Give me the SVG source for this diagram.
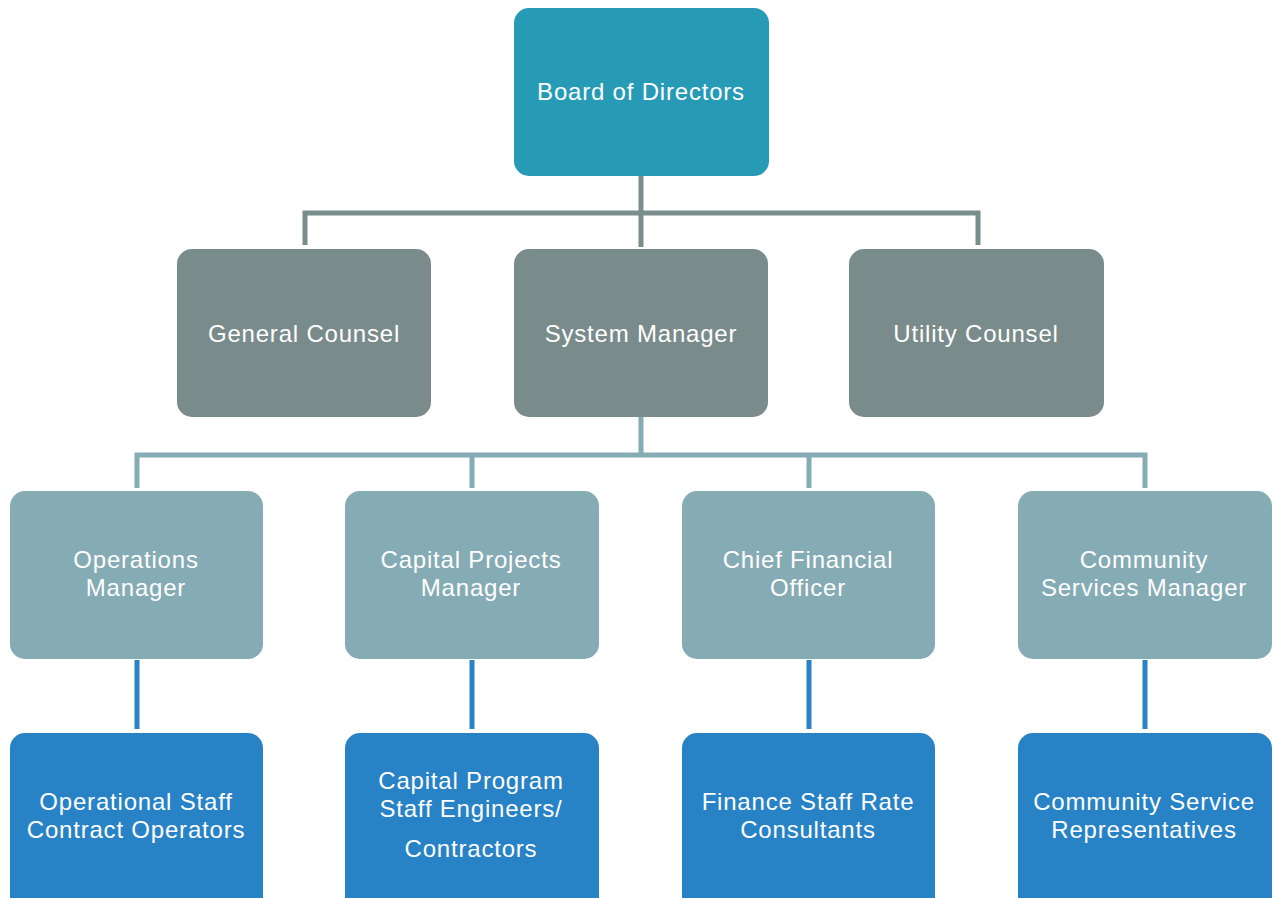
<svg xmlns="http://www.w3.org/2000/svg" width="1275" height="898" viewBox="0 0 1275 898">
<style>
.t{font-family:"Liberation Sans",Arial,sans-serif;font-size:24px;letter-spacing:0.8px;fill:#ffffff;text-anchor:middle}
.board{fill:#279bb5}
.l2{fill:#7a8b8b}
.l3{fill:#85abb5}
.l4{fill:#2782c6}
.c1{stroke:#7a8d8d;stroke-width:5;fill:none}
.c2{stroke:#85abb5;stroke-width:5;fill:none}
.c3{stroke:#2782c6;stroke-width:5;fill:none}
</style>
<rect width="1275" height="898" fill="#ffffff"/>
<g id="connectors">
<path class="c1" d="M641 176V247M305 245V213H978V245"/>
<path class="c2" d="M641 417V455M137 488V455H1145V488M472 455V488M809 455V488"/>
<path class="c3" d="M137 660V729M472 660V729M809 660V729M1145 660V729"/>
</g>
<g id="board"><rect class="board" x="514" y="8" width="255" height="168" rx="15"/><text class="t" x="641" y="100">Board of Directors</text></g>
<g id="general-counsel"><rect class="l2" x="177" y="249" width="254" height="168" rx="15"/><text class="t" x="304" y="342">General Counsel</text></g>
<g id="system-manager"><rect class="l2" x="514" y="249" width="254" height="168" rx="15"/><text class="t" x="641" y="342">System Manager</text></g>
<g id="utility-counsel"><rect class="l2" x="849" y="249" width="255" height="168" rx="15"/><text class="t" x="976" y="342">Utility Counsel</text></g>
<g id="operations-manager"><rect class="l3" x="10" y="491" width="253" height="168" rx="15"/><text class="t" x="136" y="568">Operations</text><text class="t" x="136" y="596">Manager</text></g>
<g id="capital-projects-manager"><rect class="l3" x="345" y="491" width="254" height="168" rx="15"/><text class="t" x="471" y="568">Capital Projects</text><text class="t" x="471" y="596">Manager</text></g>
<g id="cfo"><rect class="l3" x="682" y="491" width="253" height="168" rx="15"/><text class="t" x="808" y="568">Chief Financial</text><text class="t" x="808" y="596">Officer</text></g>
<g id="community-services-manager"><rect class="l3" x="1018" y="491" width="254" height="168" rx="15"/><text class="t" x="1144" y="568">Community</text><text class="t" x="1144" y="596">Services Manager</text></g>
<g id="operational-staff"><rect class="l4" x="10" y="733" width="253" height="180" rx="15"/><text class="t" x="136" y="810">Operational Staff</text><text class="t" x="136" y="838">Contract Operators</text></g>
<g id="capital-program-staff"><rect class="l4" x="345" y="733" width="254" height="180" rx="15"/><text class="t" x="471" y="789">Capital Program</text><text class="t" x="471" y="817">Staff Engineers/</text><text class="t" x="471" y="857">Contractors</text></g>
<g id="finance-staff"><rect class="l4" x="682" y="733" width="253" height="180" rx="15"/><text class="t" x="808" y="810">Finance Staff Rate</text><text class="t" x="808" y="838">Consultants</text></g>
<g id="community-service-reps"><rect class="l4" x="1018" y="733" width="254" height="180" rx="15"/><text class="t" x="1144" y="810">Community Service</text><text class="t" x="1144" y="838">Representatives</text></g>
</svg>
